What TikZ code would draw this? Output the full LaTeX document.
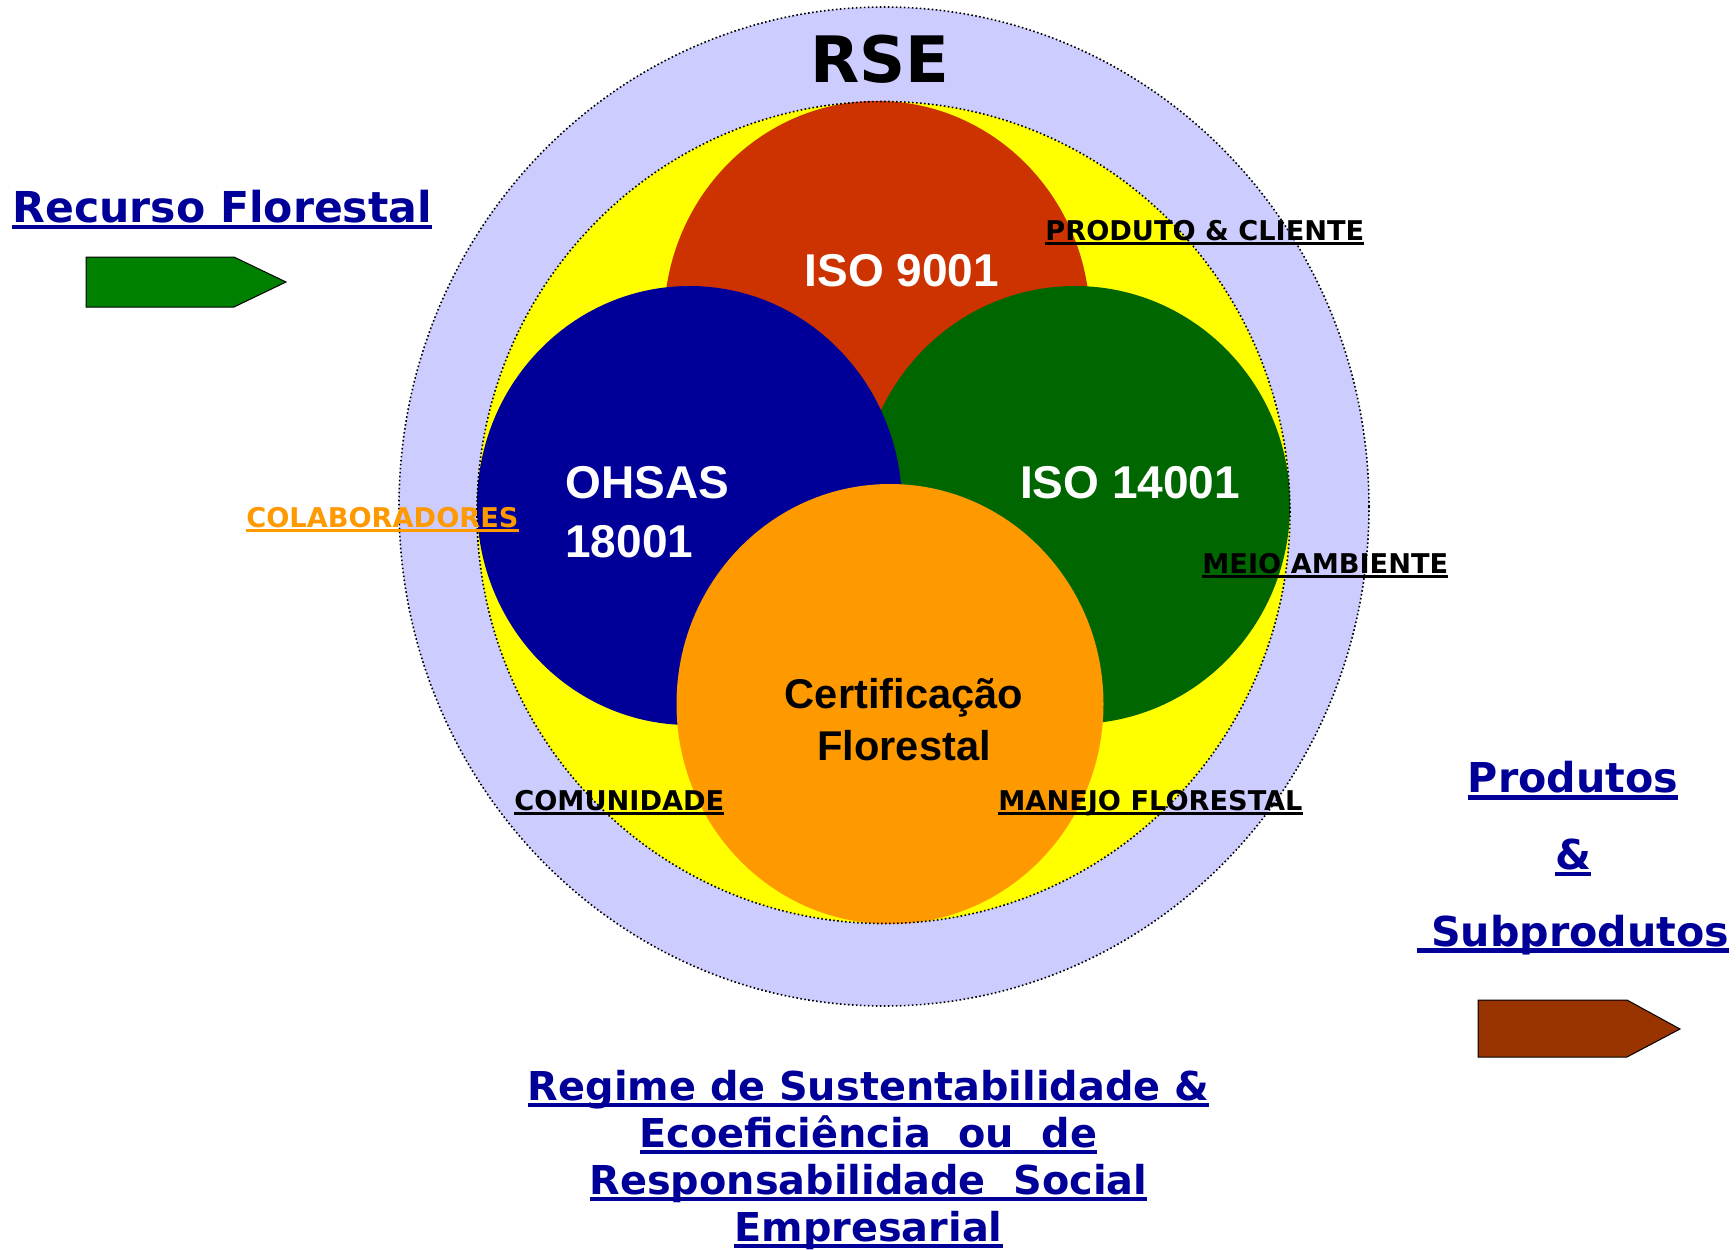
\documentclass[tikz,border=0pt]{standalone}
\usepackage{fontspec}
\setmainfont{DejaVu Sans}
\newfontfamily\verdana{DejaVu Sans}
\newfontfamily\arial{Liberation Sans}
\usepackage{xcolor}
\definecolor{rse-lilac}{RGB}{204,204,255}
\definecolor{rse-yellow}{RGB}{255,255,0}
\definecolor{iso-red}{RGB}{204,51,0}
\definecolor{ohsas-blue}{RGB}{0,0,153}
\definecolor{iso-green}{RGB}{0,102,0}
\definecolor{cert-orange}{RGB}{255,153,0}
\definecolor{arrow-green}{RGB}{0,128,0}
\definecolor{arrow-brown}{RGB}{153,51,0}
\definecolor{title-blue}{RGB}{0,0,153}
\newcommand{\uln}[1]{\setbox0=\hbox{#1}\rlap{\rule[-0.17em]{\wd0}{0.11em}}\box0}
\tikzstyle{ring}=[draw=black, line width=0.8pt, dash pattern=on 0.8pt off 1.2pt]
\tikzstyle{arrowbox}=[draw=black, line width=0.5pt]
\tikzstyle{tag}=[inner sep=0pt, anchor=base west, font=\verdana\bfseries\fontsize{13.6}{16}\selectfont]
\tikzstyle{iso}=[inner sep=0pt, text=white, font=\arial\bfseries\fontsize{23}{29.4}\selectfont]
\tikzstyle{title}=[inner sep=0pt, text=title-blue, align=center]

\begin{document}
\begin{tikzpicture}[x=0.5pt,y=-0.5pt]
	\useasboundingbox (0,0) rectangle (1736,1249);
	\fill[rse-lilac] (884,506.5) ellipse [x radius=242.5pt, y radius=249.75pt];
	\fill[rse-yellow] (883.5,512.5) ellipse [x radius=203.25pt, y radius=205.5pt];
	\fill[iso-red] (877,321) ellipse [x radius=106.5pt, y radius=110pt];
	\fill[iso-green] (1075,505) ellipse [x radius=107.5pt, y radius=109.5pt];
	\fill[ohsas-blue] (689.5,505.5) ellipse [x radius=106.25pt, y radius=109.75pt];
	\fill[cert-orange] (890,704) ellipse [x radius=106.75pt, y radius=110pt];
	\draw[ring] (884,506.5) ellipse [x radius=242.5pt, y radius=249.75pt];
	\draw[ring] (883.5,512.5) ellipse [x radius=203.25pt, y radius=205.5pt];
	% arrows
	\filldraw[arrowbox, fill=arrow-green] (86,257) -- (234,257) -- (286,282) -- (234,307) -- (86,307) -- cycle;
	\filldraw[arrowbox, fill=arrow-brown] (1478,1000) -- (1627,1000) -- (1680,1029) -- (1627,1057) -- (1478,1057) -- cycle;
	% texts (multi-line nodes sit on their last baseline)
	\node[inner sep=0pt, anchor=base, font=\verdana\bfseries\fontsize{32}{38}\selectfont] (rse) at (880,82) {RSE};
	\node[iso, anchor=base] (iso9001) at (902,286) {ISO 9001};
	\node[iso, anchor=base] (iso14001) at (1130,498) {ISO 14001};
	\node[iso, anchor=base west, align=left] (ohsas) at (565,557) {OHSAS\\18001};
	\node[iso, anchor=base, align=center, text=black, font=\arial\bfseries\fontsize{20.8}{26}\selectfont] (cert) at (904,760) {Certificação\\Florestal};
	\node[tag] (produto) at (1045,240) {\uln{PRODUTO \& CLIENTE}};
	\node[tag] (meio) at (1202,573) {\uln{MEIO AMBIENTE}};
	\node[tag, text=cert-orange] (colab) at (246,527) {\uln{COLABORADORES}};
	\node[tag] (comunidade) at (514,810) {\uln{COMUNIDADE}};
	\node[tag] (manejo) at (998,810) {\uln{MANEJO FLORESTAL}};
	\node[title, anchor=base west, font=\verdana\bfseries\fontsize{21.3}{26}\selectfont] (recurso) at (12,222) {\uln{Recurso Florestal}};
	\node[title, anchor=base, font=\verdana\bfseries\fontsize{20.6}{38.35}\selectfont] (produtos) at (1573,946) {\uln{Produtos}\\\uln{\&}\\\uln{~Subprodutos}};
	\node[title, anchor=base, font=\verdana\bfseries\fontsize{19.9}{23.5}\selectfont] (regime) at (868.5,1241.5) {\uln{Regime de Sustentabilidade \&}\\\uln{Ecoeficiência~~ou~~de}\\\uln{Responsabilidade~~Social}\\\uln{Empresarial}};
\end{tikzpicture}
\end{document}
